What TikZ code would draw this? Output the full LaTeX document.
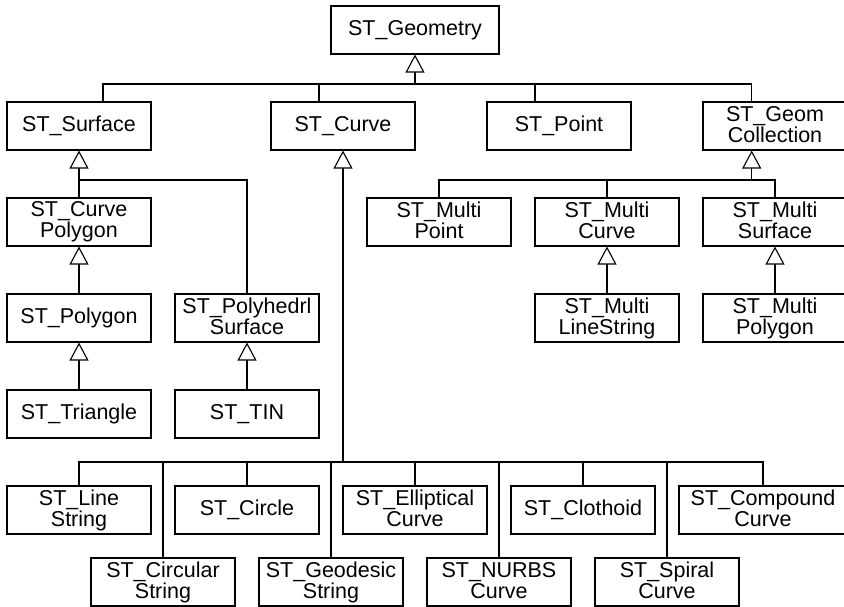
\documentclass[tikz,border=0pt]{standalone}
\usepackage{fontspec}
\setmainfont{Liberation Sans}
\usetikzlibrary{arrows.meta}
\begin{document}
\begin{tikzpicture}[x=1pt,y=-1pt,
  cls/.style={draw, line width=1.1pt, minimum width=144pt, minimum height=48pt,
    inner sep=0pt, align=center, font=\fontsize{21.5}{21}\selectfont,
    execute at begin node={\rule{0pt}{16pt}},
    execute at end node={\rule[-4pt]{0pt}{4pt}}},
  wide/.style={cls, minimum width=168pt},
  link/.style={line width=1.1pt},
  inh/.style={link, -{Triangle[open, length=18pt, width=19pt]}}]
\clip (0,0) rectangle (844,607);

% root
\node[wide] (geom) at (415,30) {ST\_Geometry};

% first level
\node[cls] (surface)  at (79,126)  {ST\_Surface};
\node[cls] (curve)    at (343,126) {ST\_Curve};
\node[cls] (point)    at (559,126) {ST\_Point};
\node[cls] (geomcoll) at (775,126) {ST\_Geom\\Collection};

% surfaces
\node[cls] (curvepoly) at (79,222)  {ST\_Curve\\Polygon};
\node[cls] (polygon)   at (79,318)  {ST\_Polygon};
\node[cls] (triangle)  at (79,414)  {ST\_Triangle};
\node[cls] (polyhedrl) at (247,318) {ST\_Polyhedrl\\Surface};
\node[cls] (tin)       at (247,414) {ST\_TIN};

% collections
\node[cls] (multipoint)   at (439,222) {ST\_Multi\\Point};
\node[cls] (multicurve)   at (607,222) {ST\_Multi\\Curve};
\node[cls] (multisurface) at (775,222) {ST\_Multi\\Surface};
\node[cls] (multiline)    at (607,318) {ST\_Multi\\LineString};
\node[cls] (multipoly)    at (775,318) {ST\_Multi\\Polygon};

% curves
\node[cls]  (linestring) at (79,510)  {ST\_Line\\String};
\node[cls]  (circle)     at (247,510) {ST\_Circle};
\node[cls]  (elliptical) at (415,510) {ST\_Elliptical\\Curve};
\node[cls]  (clothoid)   at (583,510) {ST\_Clothoid};
\node[wide] (compound)   at (763,510) {ST\_Compound\\Curve};
\node[cls]  (circular)   at (163,582) {ST\_Circular\\String};
\node[cls]  (geodesic)   at (331,582) {ST\_Geodesic\\String};
\node[cls]  (nurbs)      at (499,582) {ST\_NURBS\\Curve};
\node[cls]  (spiral)     at (667,582) {ST\_Spiral\\Curve};

% bus junctions
\coordinate (j0) at (415,84);
\coordinate (j1) at (79,180);
\coordinate (j2) at (343,462);
\coordinate (j3) at (751.7,180);

% ST_Geometry subclasses
\draw[inh] (j0) -- (geom.south);
\draw[link] ([xshift=24pt]surface.north) |- ([xshift=-23.3pt]geomcoll.north |- j0)
  -- ([xshift=-23.3pt]geomcoll.north);
\draw[link] ([xshift=-24pt]curve.north) -- ([xshift=-24pt]curve.north |- j0);
\draw[link] ([xshift=-24pt]point.north) -- ([xshift=-24pt]point.north |- j0);

% ST_Surface subclasses
\draw[inh] (j1) -- (surface.south);
\draw[link] (curvepoly.north) -- (j1) -| (polyhedrl.north);
\draw[inh] (polygon.north) -- (curvepoly.south);
\draw[inh] (triangle.north) -- (polygon.south);
\draw[inh] (tin.north) -- (polyhedrl.south);

% ST_GeomCollection subclasses
\draw[inh] (j3) -- ([xshift=-23.3pt]geomcoll.south);
\draw[link] (multipoint.north) |- (multisurface.north |- j3) -- (multisurface.north);
\draw[link] (multicurve.north) -- (multicurve.north |- j3);
\draw[inh] (multiline.north) -- (multicurve.south);
\draw[inh] (multipoly.north) -- (multisurface.south);

% ST_Curve subclasses
\draw[inh] (j2) -- (curve.south);
\draw[link] (linestring.north) |- (compound.north |- j2) -- (compound.north);
\foreach \n in {circle, elliptical, clothoid, circular, geodesic, nurbs, spiral}
  \draw[link] (\n.north) -- (\n.north |- j2);
\end{tikzpicture}
\end{document}
